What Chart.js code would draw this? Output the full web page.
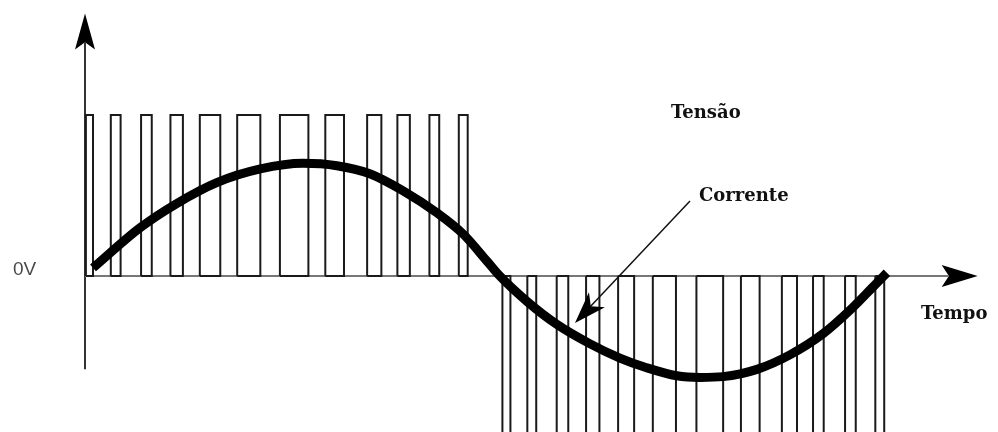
<!DOCTYPE html>
<html>
<head>
<meta charset="utf-8">
<script src="https://cdn.jsdelivr.net/npm/chart.js@4"></script>
<style>
    html, body { margin: 0; padding: 0; background: #fff; }
    #wrap { width: 998px; height: 432px; }
</style>
</head>
<body>
<div id="wrap"><canvas id="pwmChart" width="998" height="432"></canvas></div>
<script>
// time units (arbitrary), pulse edges
const posStarts = [0.1, 2.9, 6.3, 9.6, 12.9, 17.1, 21.9, 27.0, 31.7, 35.1, 38.7, 42.0];
const posEnds   = [0.9, 4.0, 7.5, 11.0, 15.2, 19.7, 25.1, 29.1, 33.3, 36.5, 39.8, 43.0];
const negStarts = [46.9, 49.7, 53.0, 56.3, 59.9, 63.8, 68.7, 73.7, 78.3, 81.8, 85.4, 88.8];
const negEnds   = [47.8, 50.7, 54.3, 57.8, 61.7, 66.4, 71.7, 75.8, 80.0, 83.0, 86.6, 89.8];
const pulseLevel = 1;

// current waveform
const curveT = [0.9, 6.2, 10.3, 14.8, 19.7, 24.5, 28.3, 32.0, 35.7, 39.6, 42.5, 45.2, 46.6,
                49.7, 53.0, 56.7, 60.1, 63.1, 66.5, 69.1, 71.7, 75.5, 79.2, 82.9, 86.0, 88.5, 90.1];
const curveI = [0.05, 0.30, 0.45, 0.58, 0.665, 0.70, 0.685, 0.635, 0.53, 0.39, 0.26, 0.09, 0.0,
                -0.16, -0.30, -0.42, -0.51, -0.57, -0.62, -0.63, -0.625, -0.58, -0.49, -0.36, -0.21, -0.07, 0.02];

const buildPulses = () => {
    const pts = [];
    const addPulse = (a, b, h) => {
        pts.push({x: a, y: 0}, {x: a, y: h}, {x: b, y: h}, {x: b, y: 0}, {x: a, y: 0}, {x: b, y: null});
    };
    posStarts.forEach((s, i) => addPulse(s, posEnds[i], pulseLevel));
    negStarts.forEach((s, i) => addPulse(s, negEnds[i], -pulseLevel));
    return pts;
};

const arrowHead = (ctx, tx, ty, fx, fy, len, half, notch) => {
    // filled arrowhead pointing from (fx,fy) towards (tx,ty)
    const ang = Math.atan2(ty - fy, tx - fx);
    ctx.save();
    ctx.translate(tx, ty);
    ctx.rotate(ang);
    ctx.beginPath();
    ctx.moveTo(0, 0);
    ctx.lineTo(-len, -half);
    ctx.lineTo(-len * notch, 0);
    ctx.lineTo(-len, half);
    ctx.closePath();
    ctx.fill();
    ctx.restore();
};

const decorations = {
    id: 'decorations',
    beforeDatasetsDraw(chart) {
        const {ctx, scales: {x, y}} = chart;
        ctx.save();
        // y axis
        ctx.strokeStyle = '#333';
        ctx.lineWidth = 2;
        ctx.beginPath();
        ctx.moveTo(x.getPixelForValue(0), y.getPixelForValue(-0.58));
        ctx.lineTo(x.getPixelForValue(0), y.getPixelForValue(1.45));
        ctx.stroke();
        // x axis
        ctx.strokeStyle = '#777';
        ctx.lineWidth = 2;
        ctx.beginPath();
        ctx.moveTo(x.getPixelForValue(0), y.getPixelForValue(0));
        ctx.lineTo(x.getPixelForValue(97), y.getPixelForValue(0));
        ctx.stroke();
        ctx.restore();
    },
    afterDraw(chart) {
        const {ctx, scales: {x, y}} = chart;
        ctx.save();
        ctx.fillStyle = '#000';
        // axis arrows
        arrowHead(ctx, x.getPixelForValue(0), y.getPixelForValue(1.63), x.getPixelForValue(0), y.getPixelForValue(1.0), 36, 10, 0.8);
        arrowHead(ctx, x.getPixelForValue(100.3), y.getPixelForValue(0), x.getPixelForValue(90), y.getPixelForValue(0), 36, 11, 0.8);

        // Corrente pointer
        const sx = 690, sy = 201, tx = 575, ty = 323;
        ctx.strokeStyle = '#111';
        ctx.lineWidth = 1.5;
        ctx.beginPath();
        ctx.moveTo(sx, sy);
        ctx.lineTo(tx + 14, ty - 15);
        ctx.stroke();
        arrowHead(ctx, tx, ty, sx, sy, 32, 11, 0.72);

        // labels
        ctx.fillStyle = '#111';
        ctx.textBaseline = 'alphabetic';
        ctx.font = 'bold 18px "DejaVu Serif"';
        ctx.fillText('Tensão', 671, 118);
        ctx.fillText('Corrente', 699, 201);
        ctx.fillText('Tempo', 921, 319);
        ctx.fillStyle = '#4a4a4a';
        ctx.font = '19px "Liberation Sans"';
        ctx.fillText('0V', 13, 275);
        ctx.restore();
    }
};

const ctx = document.getElementById('pwmChart');
new Chart(ctx, {
    type: 'scatter',
    data: {
        datasets: [
            {
                label: 'Corrente',
                data: curveT.map((t, i) => ({x: t, y: curveI[i]})),
                showLine: true,
                borderColor: '#000',
                borderWidth: 9,
                pointRadius: 0,
                cubicInterpolationMode: 'monotone',
                borderCapStyle: 'butt',
                borderJoinStyle: 'round',
                order: 0
            },
            {
                label: 'Tensão',
                data: buildPulses(),
                showLine: true,
                spanGaps: false,
                borderColor: '#1a1a1a',
                borderWidth: 2,
                pointRadius: 0,
                tension: 0,
                order: 1
            }
        ]
    },
    options: {
        responsive: false,
        animation: false,
        layout: { padding: 0 },
        plugins: { legend: { display: false }, tooltip: { enabled: false } },
        scales: {
            x: { type: 'linear', display: false, min: -9.551, max: 102.584 },
            y: { type: 'linear', display: false, min: -0.969, max: 1.714 }
        }
    },
    plugins: [decorations]
});
</script>
</body>
</html>
